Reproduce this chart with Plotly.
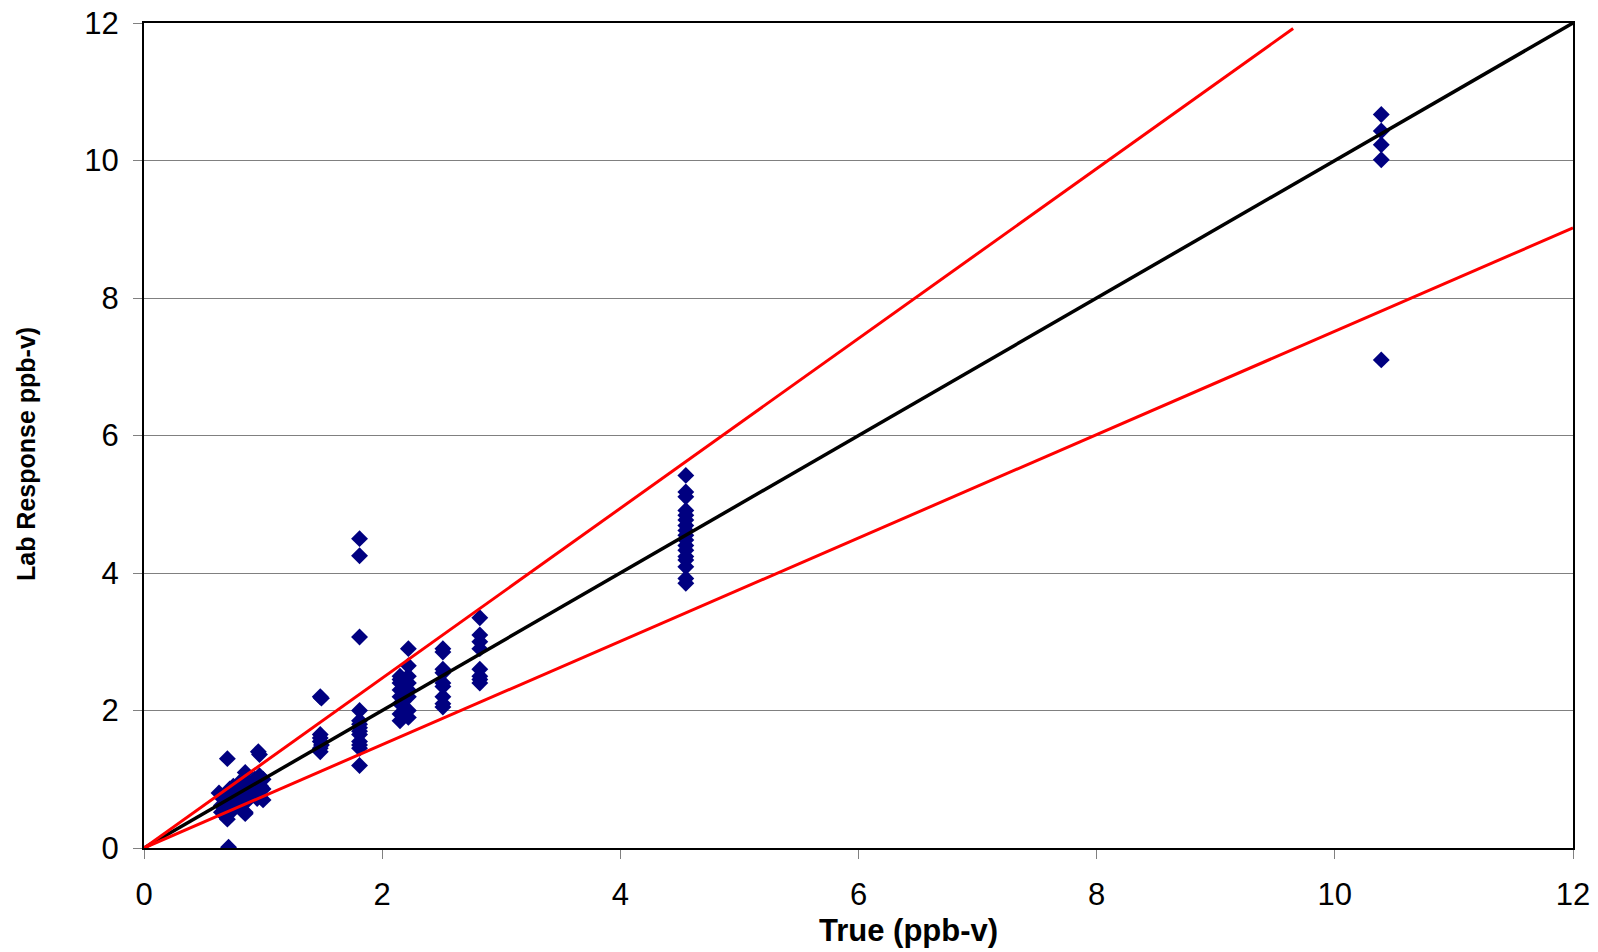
import plotly.graph_objects as go

# Measured data (True vs Lab Response, ppb-v)
true_vals = (
    [0.63, 0.65, 0.65, 0.66, 0.68, 0.68, 0.70, 0.70, 0.70, 0.70, 0.72, 0.72, 0.74, 0.75, 0.75,
     0.77, 0.78, 0.80, 0.80, 0.80, 0.82, 0.84, 0.85, 0.85, 0.85, 0.87, 0.88, 0.90, 0.90, 0.92,
     0.93, 0.95, 0.95, 0.95, 0.97, 0.97, 0.98, 1.00, 1.00, 1.00, 0.70, 0.71, 0.85, 0.96, 0.97]
    + [1.48, 1.49, 1.48, 1.48, 1.48, 1.49, 1.48, 1.48]
    + [1.81] * 13
    + [2.15, 2.15, 2.15, 2.15, 2.15, 2.15, 2.15, 2.15, 2.22, 2.22, 2.22, 2.22, 2.22, 2.22, 2.22, 2.22]
    + [2.51] * 9
    + [2.82] * 8
    + [4.55] * 17
    + [10.39] * 5
)
lab_vals = (
    [0.80, 0.62, 0.52, 0.72, 0.47, 0.58, 0.66, 0.55, 0.42, 0.78, 0.62, 0.86, 0.70, 0.56, 0.90,
     0.66, 0.82, 0.75, 0.60, 0.95, 0.70, 0.86, 0.66, 0.52, 1.10, 0.80, 0.95, 0.76, 0.90, 0.85,
     1.00, 0.80, 0.95, 0.72, 1.05, 0.76, 0.90, 0.86, 1.00, 0.70, 1.30, 0.01, 0.50, 1.40, 1.36]
    + [2.20, 2.18, 1.65, 1.60, 1.55, 1.50, 1.45, 1.40]
    + [4.50, 4.25, 3.07, 2.00, 1.85, 1.80, 1.75, 1.70, 1.65, 1.55, 1.50, 1.45, 1.20]
    + [2.50, 2.45, 2.40, 2.30, 2.20, 2.10, 1.95, 1.85, 2.90, 2.65, 2.50, 2.40, 2.30, 2.20, 2.00, 1.90]
    + [2.90, 2.85, 2.60, 2.55, 2.40, 2.35, 2.20, 2.10, 2.05]
    + [3.35, 3.10, 3.00, 2.90, 2.60, 2.50, 2.45, 2.40]
    + [5.42, 5.18, 5.11, 4.91, 4.84, 4.77, 4.69, 4.62, 4.55, 4.48, 4.40, 4.33, 4.24, 4.19, 4.09, 3.92, 3.85]
    + [10.67, 10.43, 10.23, 10.01, 7.10]
)

one_to_one_x = [0, 12]
one_to_one_y = [0, 12]
upper_x = [0, 9.65]
upper_y = [0, 11.92]
lower_x = [0, 12]
lower_y = [0, 9.02]

tick_vals = [0, 2, 4, 6, 8, 10, 12]
tick_text = ["0", "2", "4", "6", "8", "10", "12"]

fig = go.Figure()
fig.add_trace(go.Scatter(x=true_vals, y=lab_vals, mode="markers",
                         marker=dict(symbol="diamond", size=13, color="#000080",
                                     line=dict(width=0)),
                         showlegend=False))
fig.add_trace(go.Scatter(x=one_to_one_x, y=one_to_one_y, mode="lines",
                         line=dict(color="black", width=3.5), showlegend=False))
fig.add_trace(go.Scatter(x=upper_x, y=upper_y, mode="lines",
                         line=dict(color="#FF0000", width=3), showlegend=False))
fig.add_trace(go.Scatter(x=lower_x, y=lower_y, mode="lines",
                         line=dict(color="#FF0000", width=3), showlegend=False))

font_family = "Liberation Sans, Arial, sans-serif"

fig.update_layout(
    width=1598, height=952,
    margin=dict(l=144, r=25, t=23, b=104),
    paper_bgcolor="white", plot_bgcolor="white",
    font=dict(family=font_family, color="black"),
    xaxis=dict(range=[0, 12], tickvals=tick_vals, ticktext=tick_text,
               showgrid=False, zeroline=False, automargin=False,
               showline=True, linecolor="black", linewidth=2, mirror=True,
               ticks="outside", ticklen=9, tickcolor="#808080", tickwidth=1,
               tickfont=dict(size=31, family=font_family), ticklabelstandoff=9),
    yaxis=dict(range=[0, 12], tickvals=tick_vals, ticktext=tick_text,
               showgrid=True, gridcolor="#808080", gridwidth=1, zeroline=False,
               automargin=False,
               showline=True, linecolor="black", linewidth=2, mirror=True,
               ticks="outside", ticklen=9, tickcolor="#808080", tickwidth=1,
               tickfont=dict(size=31, family=font_family), ticklabelstandoff=8),
    annotations=[
        dict(text="<b>True (ppb-v)</b>", xref="paper", yref="paper",
             x=0.535, y=-0.1, xanchor="center", yanchor="middle", showarrow=False,
             font=dict(size=31, family=font_family, color="black")),
        dict(text="<b>Lab Response ppb-v)</b>", xref="paper", yref="paper",
             x=-0.083, y=0.478, xanchor="center", yanchor="middle", showarrow=False,
             textangle=-90, font=dict(size=25, family=font_family, color="black")),
    ],
)

fig.write_html("out.html")
